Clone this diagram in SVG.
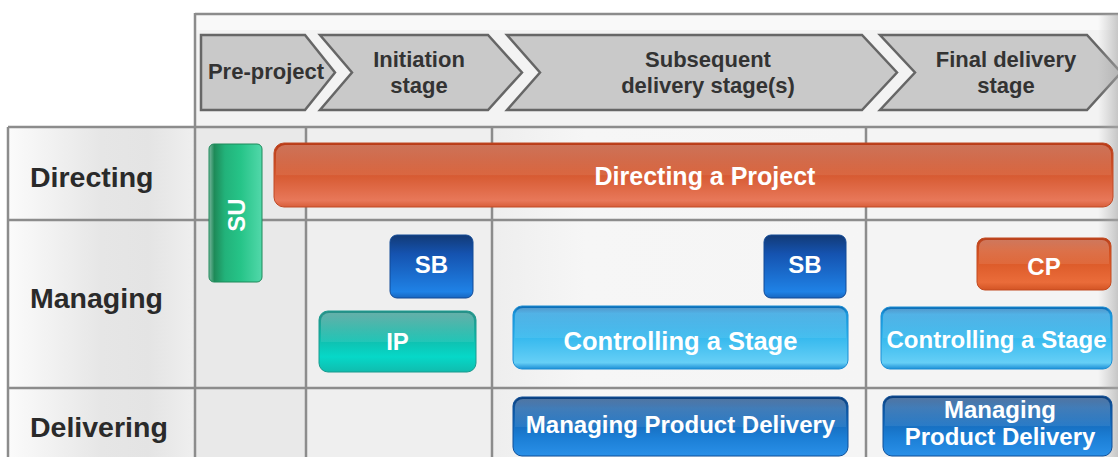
<svg xmlns="http://www.w3.org/2000/svg" width="1118" height="457" viewBox="0 0 1118 457">
<defs>
<style>
.hdr{fill:#c9c9c9;stroke:#666;stroke-width:2.5;stroke-linejoin:miter}
.ht{font-family:"Liberation Sans",Arial,sans-serif;font-weight:bold;font-size:22px;fill:#333;text-anchor:middle}
.rl{font-family:"Liberation Sans",Arial,sans-serif;font-weight:bold;font-size:28.5px;fill:#2a2a2a}
.nt{font-family:"Liberation Sans",Arial,sans-serif;font-weight:bold;fill:#fff;text-anchor:middle}
.gl{stroke:#8c8c8c;stroke-width:2.5;fill:none}
.gloss{fill:url(#gloss)}
</style>
<linearGradient id="lab" x1="0" y1="0" x2="1" y2="0">
<stop offset="0" stop-color="#fbfbfb"/><stop offset="0.5" stop-color="#e6e6e6"/><stop offset="0.75" stop-color="#e4e4e4"/><stop offset="1" stop-color="#efefef"/>
</linearGradient>
<linearGradient id="rshade" x1="0" y1="0" x2="1" y2="0">
<stop offset="0" stop-color="#b0b0b0" stop-opacity="0"/><stop offset="1" stop-color="#a8a8a8" stop-opacity="0.6"/>
</linearGradient>
<linearGradient id="subcol" x1="0" y1="0" x2="1" y2="0">
<stop offset="0" stop-color="#eeeeee"/><stop offset="0.25" stop-color="#f6f6f6"/><stop offset="1" stop-color="#f5f5f5"/>
</linearGradient>
<linearGradient id="orange" x1="0" y1="0" x2="0" y2="1">
<stop offset="0" stop-color="#b83a16"/><stop offset="0.45" stop-color="#d4562c"/><stop offset="0.9" stop-color="#e8785a"/><stop offset="1" stop-color="#d85e3a"/>
</linearGradient>
<linearGradient id="cp" x1="0" y1="0" x2="0" y2="1">
<stop offset="0" stop-color="#b8401c"/><stop offset="0.25" stop-color="#d4501f"/><stop offset="0.85" stop-color="#ea6c3a"/><stop offset="1" stop-color="#d35424"/>
</linearGradient>
<linearGradient id="dblue" x1="0" y1="0" x2="0" y2="1">
<stop offset="0" stop-color="#123a76"/><stop offset="0.3" stop-color="#1553b0"/><stop offset="0.9" stop-color="#1f82e6"/><stop offset="1" stop-color="#1766c0"/>
</linearGradient>
<linearGradient id="mpd" x1="0" y1="0" x2="0" y2="1">
<stop offset="0" stop-color="#0a3b78"/><stop offset="0.2" stop-color="#0f5aa6"/><stop offset="0.7" stop-color="#1c7fd6"/><stop offset="1" stop-color="#2a90e8"/>
</linearGradient>
<linearGradient id="lblue" x1="0" y1="0" x2="0" y2="1">
<stop offset="0" stop-color="#0a66b0"/><stop offset="0.12" stop-color="#1a9ade"/><stop offset="0.5" stop-color="#36b9ee"/><stop offset="0.9" stop-color="#66cff6"/><stop offset="1" stop-color="#1d8fd6"/>
</linearGradient>
<linearGradient id="teal" x1="0" y1="0" x2="0" y2="1">
<stop offset="0" stop-color="#2a8e86"/><stop offset="0.3" stop-color="#16ae9f"/><stop offset="0.75" stop-color="#06d8c8"/><stop offset="1" stop-color="#10bcae"/>
</linearGradient>
<linearGradient id="green" x1="0" y1="0" x2="1" y2="0">
<stop offset="0" stop-color="#7ab8a0"/><stop offset="0.1" stop-color="#1e8a58"/><stop offset="0.3" stop-color="#22b27a"/><stop offset="0.6" stop-color="#26c488"/><stop offset="1" stop-color="#52d8aa"/>
</linearGradient>
<linearGradient id="gloss" x1="0" y1="0" x2="0" y2="1">
<stop offset="0" stop-color="#fff" stop-opacity="0.28"/><stop offset="0.5" stop-color="#fff" stop-opacity="0.08"/><stop offset="0.51" stop-color="#fff" stop-opacity="0"/><stop offset="1" stop-color="#fff" stop-opacity="0"/>
</linearGradient>
</defs>

<rect width="1118" height="457" fill="#fff"/>

<g id="background">
<rect x="195" y="14" width="923" height="113" fill="#f3f3f3"/>
<rect x="195" y="14" width="923" height="16" fill="#f9f9f9"/>
<rect x="8" y="127" width="187" height="330" fill="url(#lab)"/>
<rect x="195" y="127" width="923" height="330" fill="#efefef"/>
<rect x="195" y="127" width="111" height="330" fill="#e9e9e9"/>
<rect x="492" y="127" width="374" height="330" fill="url(#subcol)"/>
<rect x="866" y="127" width="252" height="330" fill="#f4f4f4"/>
</g>

<g id="grid">
<line class="gl" x1="195" y1="14" x2="1118" y2="14" stroke="#a0a0a0"/>
<line class="gl" x1="195" y1="13" x2="195" y2="457"/>
<line class="gl" x1="8" y1="127" x2="1118" y2="127"/>
<line class="gl" x1="8" y1="220" x2="1118" y2="220"/>
<line class="gl" x1="8" y1="388" x2="1118" y2="388"/>
<line class="gl" x1="8" y1="127" x2="8" y2="457"/>
<line class="gl" x1="306" y1="127" x2="306" y2="457"/>
<line class="gl" x1="492" y1="127" x2="492" y2="457"/>
<line class="gl" x1="866" y1="127" x2="866" y2="457"/>
</g>

<g id="stages">
<g id="stage-preproject">
<polygon class="hdr" points="201,35 305,35 335,72.5 305,110 201,110"/>
<text class="ht" x="266" y="79">Pre-project</text>
</g>
<g id="stage-initiation">
<polygon class="hdr" points="320,35 488,35 522,72.5 488,110 320,110 352,72.5"/>
<text class="ht" x="419" y="67">Initiation</text>
<text class="ht" x="419" y="93">stage</text>
</g>
<g id="stage-subsequent">
<polygon class="hdr" points="507,35 862,35 897,72.5 862,110 507,110 540,72.5"/>
<text class="ht" x="708" y="67">Subsequent</text>
<text class="ht" x="708" y="93">delivery stage(s)</text>
</g>
<g id="stage-final">
<polygon class="hdr" points="880,35 1087,35 1121,72.5 1087,110 880,110 915,72.5"/>
<text class="ht" x="1006" y="67">Final delivery</text>
<text class="ht" x="1006" y="93">stage</text>
</g>
</g>

<g id="rows">
<text id="row-directing" class="rl" x="30" y="187">Directing</text>
<text id="row-managing" class="rl" x="30" y="308">Managing</text>
<text id="row-delivering" class="rl" x="30" y="437">Delivering</text>
</g>

<rect x="1098" y="14" width="20" height="443" fill="url(#rshade)"/>

<g id="connectors"></g>

<g id="node-dp">
<rect x="274" y="143" width="839" height="64" rx="10" fill="url(#orange)" stroke="#c04a26" stroke-width="1"/>
<rect x="276" y="145" width="835" height="60" rx="9" class="gloss"/>
<text class="nt" x="705" y="185" font-size="25">Directing a Project</text>
</g>

<g id="node-su">
<rect x="209" y="144" width="53" height="138" rx="5" fill="url(#green)" stroke="#1e8a5a" stroke-width="1"/>
<text class="nt" font-size="24" transform="translate(245,215) rotate(-90)">SU</text>
</g>

<g id="node-sb1">
<rect x="390" y="235" width="83" height="63" rx="7" fill="url(#dblue)" stroke="#124a96" stroke-width="1"/>
<text class="nt" x="431.5" y="273" font-size="24">SB</text>
</g>

<g id="node-ip">
<rect x="319" y="311" width="157" height="61" rx="9" fill="url(#teal)" stroke="#1a9a8e" stroke-width="1"/>
<rect x="321" y="313" width="153" height="57" rx="8" class="gloss"/>
<text class="nt" x="397.5" y="350" font-size="24">IP</text>
</g>

<g id="node-sb2">
<rect x="764" y="235" width="82" height="63" rx="7" fill="url(#dblue)" stroke="#124a96" stroke-width="1"/>
<text class="nt" x="805" y="273" font-size="24">SB</text>
</g>

<g id="node-cp">
<rect x="977" y="238" width="134" height="52" rx="8" fill="url(#cp)" stroke="#c24a20" stroke-width="1"/>
<rect x="979" y="240" width="130" height="48" rx="7" class="gloss"/>
<text class="nt" x="1044" y="275" font-size="24">CP</text>
</g>

<g id="node-cs1">
<rect x="513" y="306" width="335" height="63" rx="9" fill="url(#lblue)" stroke="#1a8ed4" stroke-width="1"/>
<rect x="515" y="308" width="331" height="59" rx="8" class="gloss"/>
<text class="nt" x="680.5" y="350" font-size="25.5">Controlling a Stage</text>
</g>

<g id="node-cs2">
<rect x="881" y="307" width="231" height="62" rx="9" fill="url(#lblue)" stroke="#1a8ed4" stroke-width="1"/>
<rect x="883" y="309" width="227" height="58" rx="8" class="gloss"/>
<text class="nt" x="996.5" y="348" font-size="24">Controlling a Stage</text>
</g>

<g id="node-mpd1">
<rect x="513" y="397" width="335" height="59" rx="9" fill="url(#mpd)" stroke="#0e4f98" stroke-width="1"/>
<rect x="515" y="399" width="331" height="55" rx="8" class="gloss"/>
<text class="nt" x="680.5" y="433" font-size="24">Managing Product Delivery</text>
</g>

<g id="node-mpd2">
<rect x="883" y="396" width="229" height="60" rx="9" fill="url(#mpd)" stroke="#0e4f98" stroke-width="1"/>
<rect x="885" y="398" width="225" height="56" rx="8" class="gloss"/>
<text class="nt" x="1000" y="418" font-size="24">Managing</text>
<text class="nt" x="1000" y="445" font-size="24">Product Delivery</text>
</g>
</svg>
